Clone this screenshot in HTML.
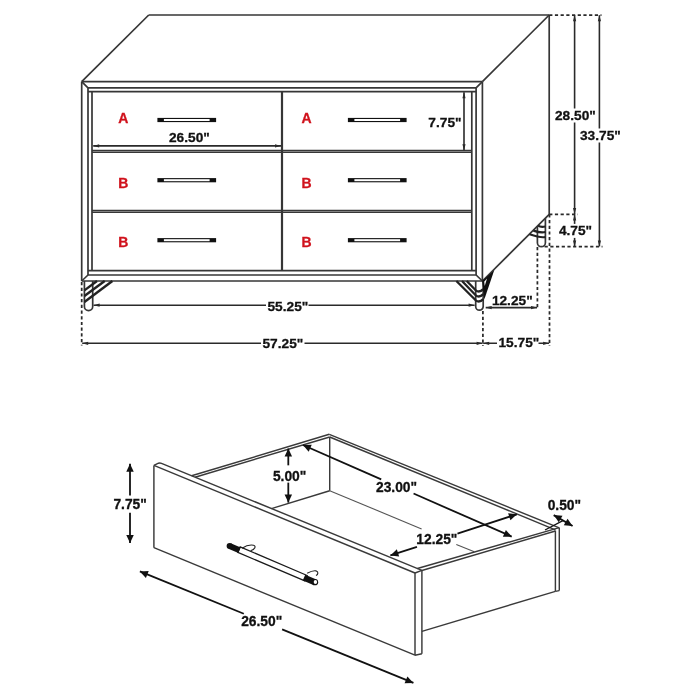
<!DOCTYPE html>
<html><head><meta charset="utf-8"><style>
html,body{margin:0;padding:0;background:#fff;width:700px;height:700px;overflow:hidden}
svg{display:block;will-change:transform}
text{font-family:"Liberation Sans",sans-serif;font-weight:bold}
</style></head><body>
<svg width="700" height="700" viewBox="0 0 700 700">
<rect width="700" height="700" fill="#fff"/>
<line x1="148.75" y1="15.00" x2="549.20" y2="15.00" stroke="#363636" stroke-width="1.7" stroke-linecap="butt"/>
<line x1="81.70" y1="81.70" x2="148.75" y2="15.00" stroke="#363636" stroke-width="1.7" stroke-linecap="butt"/>
<line x1="482.40" y1="81.70" x2="549.20" y2="15.00" stroke="#363636" stroke-width="1.7" stroke-linecap="butt"/>
<line x1="81.70" y1="81.70" x2="482.40" y2="81.70" stroke="#363636" stroke-width="1.7" stroke-linecap="butt"/>
<line x1="81.70" y1="81.70" x2="81.70" y2="281.00" stroke="#363636" stroke-width="1.7" stroke-linecap="butt"/>
<line x1="482.40" y1="81.70" x2="482.40" y2="281.00" stroke="#363636" stroke-width="1.7" stroke-linecap="butt"/>
<line x1="81.70" y1="281.00" x2="482.40" y2="281.00" stroke="#363636" stroke-width="1.7" stroke-linecap="butt"/>
<line x1="88.00" y1="87.80" x2="476.10" y2="87.80" stroke="#363636" stroke-width="1.7" stroke-linecap="butt"/>
<line x1="88.00" y1="87.80" x2="88.00" y2="275.00" stroke="#363636" stroke-width="1.7" stroke-linecap="butt"/>
<line x1="476.10" y1="87.80" x2="476.10" y2="275.00" stroke="#363636" stroke-width="1.7" stroke-linecap="butt"/>
<line x1="88.00" y1="275.00" x2="476.10" y2="275.00" stroke="#363636" stroke-width="1.7" stroke-linecap="butt"/>
<line x1="81.70" y1="81.70" x2="88.00" y2="87.80" stroke="#363636" stroke-width="1.7" stroke-linecap="butt"/>
<line x1="482.40" y1="81.70" x2="476.10" y2="87.80" stroke="#363636" stroke-width="1.7" stroke-linecap="butt"/>
<line x1="81.70" y1="281.00" x2="88.00" y2="275.00" stroke="#363636" stroke-width="1.7" stroke-linecap="butt"/>
<line x1="482.40" y1="281.00" x2="476.10" y2="275.00" stroke="#363636" stroke-width="1.7" stroke-linecap="butt"/>
<line x1="88.00" y1="91.70" x2="476.10" y2="91.70" stroke="#363636" stroke-width="1.7" stroke-linecap="butt"/>
<line x1="92.00" y1="91.70" x2="92.00" y2="270.70" stroke="#363636" stroke-width="1.7" stroke-linecap="butt"/>
<line x1="471.80" y1="91.70" x2="471.80" y2="270.70" stroke="#363636" stroke-width="1.7" stroke-linecap="butt"/>
<line x1="88.00" y1="270.70" x2="476.10" y2="270.70" stroke="#363636" stroke-width="1.7" stroke-linecap="butt"/>
<line x1="282.00" y1="91.70" x2="282.00" y2="270.70" stroke="#363636" stroke-width="2.2" stroke-linecap="butt"/>
<line x1="92.00" y1="150.40" x2="471.80" y2="150.40" stroke="#363636" stroke-width="1.5" stroke-linecap="butt"/>
<line x1="92.00" y1="152.20" x2="471.80" y2="152.20" stroke="#363636" stroke-width="1.5" stroke-linecap="butt"/>
<line x1="92.00" y1="210.40" x2="471.80" y2="210.40" stroke="#363636" stroke-width="1.5" stroke-linecap="butt"/>
<line x1="92.00" y1="212.20" x2="471.80" y2="212.20" stroke="#363636" stroke-width="1.5" stroke-linecap="butt"/>
<line x1="549.20" y1="15.00" x2="549.20" y2="214.40" stroke="#363636" stroke-width="1.7" stroke-linecap="butt"/>
<line x1="482.40" y1="281.00" x2="549.20" y2="214.40" stroke="#363636" stroke-width="1.7" stroke-linecap="butt"/>
<rect x="157.40" y="117.90" width="58.70" height="4.20" fill="#111"/>
<rect x="163.90" y="119.00" width="45.70" height="2.00" fill="#fff"/>
<rect x="157.40" y="178.10" width="58.70" height="4.20" fill="#111"/>
<rect x="163.90" y="179.20" width="45.70" height="2.00" fill="#fff"/>
<rect x="157.40" y="238.10" width="58.70" height="4.20" fill="#111"/>
<rect x="163.90" y="239.20" width="45.70" height="2.00" fill="#fff"/>
<rect x="347.90" y="117.90" width="58.70" height="4.20" fill="#111"/>
<rect x="354.40" y="119.00" width="45.70" height="2.00" fill="#fff"/>
<rect x="347.90" y="178.10" width="58.70" height="4.20" fill="#111"/>
<rect x="354.40" y="179.20" width="45.70" height="2.00" fill="#fff"/>
<rect x="347.90" y="238.10" width="58.70" height="4.20" fill="#111"/>
<rect x="354.40" y="239.20" width="45.70" height="2.00" fill="#fff"/>
<text x="123.40" y="122.90" font-size="14" fill="#d0121c" stroke="#d0121c" stroke-width="0.3" text-anchor="middle" letter-spacing="0">A</text>
<text x="123.40" y="188.00" font-size="14" fill="#d0121c" stroke="#d0121c" stroke-width="0.3" text-anchor="middle" letter-spacing="0">B</text>
<text x="123.40" y="246.70" font-size="14" fill="#d0121c" stroke="#d0121c" stroke-width="0.3" text-anchor="middle" letter-spacing="0">B</text>
<text x="306.60" y="122.90" font-size="14" fill="#d0121c" stroke="#d0121c" stroke-width="0.3" text-anchor="middle" letter-spacing="0">A</text>
<text x="306.60" y="188.00" font-size="14" fill="#d0121c" stroke="#d0121c" stroke-width="0.3" text-anchor="middle" letter-spacing="0">B</text>
<text x="306.60" y="246.70" font-size="14" fill="#d0121c" stroke="#d0121c" stroke-width="0.3" text-anchor="middle" letter-spacing="0">B</text>
<path d="M84.4,281 L84.4,306.4 A4.15,4.15 0 0 0 92.7,306.4 L92.7,281" stroke="#363636" stroke-width="1.7" fill="none" stroke-linecap="butt" stroke-linejoin="round"/>
<line x1="84.40" y1="290.40" x2="97.00" y2="281.00" stroke="#222" stroke-width="2.4" stroke-linecap="butt"/>
<line x1="84.40" y1="296.00" x2="104.70" y2="281.00" stroke="#222" stroke-width="2.4" stroke-linecap="butt"/>
<line x1="84.40" y1="302.00" x2="112.40" y2="281.00" stroke="#222" stroke-width="2.4" stroke-linecap="butt"/>
<path d="M475.7,281 L475.7,306.4 A3.75,3.75 0 0 0 483.2,306.4 L483.2,281" stroke="#363636" stroke-width="1.7" fill="none" stroke-linecap="butt" stroke-linejoin="round"/>
<path d="M466.7,281 L475.7,290.3 Q479.4,293.1 483.2,289.1" stroke="#222" stroke-width="2.3" fill="none" stroke-linecap="butt" stroke-linejoin="round"/>
<path d="M462,281 L475.7,295.3 Q479.4,298.1 483.2,294.1" stroke="#222" stroke-width="2.3" fill="none" stroke-linecap="butt" stroke-linejoin="round"/>
<path d="M456.4,281 L475.7,300.3 Q479.4,303.1 483.2,299.1" stroke="#222" stroke-width="2.3" fill="none" stroke-linecap="butt" stroke-linejoin="round"/>
<polygon points="482.10,281.00 494.30,269.90 484.30,299.50" fill="#111" stroke="none" stroke-width="0"/>
<polygon points="484.20,281.80 487.00,278.50 484.70,286.00" fill="#fff" stroke="none" stroke-width="0"/>
<path d="M537.4,226.2 L537.4,242.7 A4,4 0 0 0 545.4,242.7 L545.4,218.2" stroke="#363636" stroke-width="1.7" fill="none" stroke-linecap="butt" stroke-linejoin="round"/>
<path d="M538,225.7 Q541,227.7 545.4,226.5" stroke="#222" stroke-width="2.2" fill="none" stroke-linecap="butt" stroke-linejoin="round"/>
<path d="M533.4,230.6 Q541,233.2 545.4,232" stroke="#222" stroke-width="2.2" fill="none" stroke-linecap="butt" stroke-linejoin="round"/>
<path d="M529.6,234.3 Q541,238.2 545.4,237" stroke="#222" stroke-width="2.2" fill="none" stroke-linecap="butt" stroke-linejoin="round"/>
<line x1="549.20" y1="15.00" x2="601.50" y2="15.00" stroke="#2a2a2a" stroke-width="1.75" stroke-linecap="butt" stroke-dasharray="3.2 2.5"/>
<line x1="549.20" y1="214.30" x2="578.00" y2="214.30" stroke="#2a2a2a" stroke-width="1.75" stroke-linecap="butt" stroke-dasharray="3.2 2.5"/>
<line x1="544.60" y1="246.60" x2="602.50" y2="246.60" stroke="#2a2a2a" stroke-width="1.75" stroke-linecap="butt" stroke-dasharray="3.2 2.5"/>
<line x1="549.50" y1="214.30" x2="549.50" y2="346.00" stroke="#2a2a2a" stroke-width="1.75" stroke-linecap="butt" stroke-dasharray="3.2 2.5"/>
<line x1="537.40" y1="247.00" x2="537.40" y2="308.00" stroke="#2a2a2a" stroke-width="1.75" stroke-linecap="butt" stroke-dasharray="3.2 2.5"/>
<line x1="81.70" y1="282.00" x2="81.70" y2="345.50" stroke="#2a2a2a" stroke-width="1.75" stroke-linecap="butt" stroke-dasharray="3.2 2.5"/>
<line x1="482.90" y1="311.00" x2="482.90" y2="346.00" stroke="#2a2a2a" stroke-width="1.75" stroke-linecap="butt" stroke-dasharray="3.2 2.5"/>
<line x1="93.20" y1="145.90" x2="281.00" y2="145.90" stroke="#2a2a2a" stroke-width="1.6" stroke-linecap="butt"/>
<polygon points="93.20,145.90 99.20,144.30 99.20,147.50" fill="#2a2a2a" stroke="none" stroke-width="0"/>
<polygon points="281.00,145.90 275.00,147.50 275.00,144.30" fill="#2a2a2a" stroke="none" stroke-width="0"/>
<text x="169.00" y="141.70" font-size="13.7" fill="#111" stroke="#111" stroke-width="0.3" text-anchor="start" letter-spacing="0">26.50&quot;</text>
<line x1="464.00" y1="92.20" x2="464.00" y2="150.20" stroke="#2a2a2a" stroke-width="1.6" stroke-linecap="butt"/>
<polygon points="464.00,92.20 465.60,98.20 462.40,98.20" fill="#2a2a2a" stroke="none" stroke-width="0"/>
<polygon points="464.00,150.20 462.40,144.20 465.60,144.20" fill="#2a2a2a" stroke="none" stroke-width="0"/>
<text x="461.50" y="126.50" font-size="13.7" fill="#111" stroke="#111" stroke-width="0.3" text-anchor="end" letter-spacing="0">7.75&quot;</text>
<line x1="574.60" y1="15.20" x2="574.60" y2="214.10" stroke="#2a2a2a" stroke-width="1.6" stroke-linecap="butt"/>
<polygon points="574.60,15.20 576.20,21.20 573.00,21.20" fill="#2a2a2a" stroke="none" stroke-width="0"/>
<polygon points="574.60,214.10 573.00,208.10 576.20,208.10" fill="#2a2a2a" stroke="none" stroke-width="0"/>
<line x1="599.40" y1="15.20" x2="599.40" y2="246.40" stroke="#2a2a2a" stroke-width="1.6" stroke-linecap="butt"/>
<polygon points="599.40,15.20 601.00,21.20 597.80,21.20" fill="#2a2a2a" stroke="none" stroke-width="0"/>
<polygon points="599.40,246.40 597.80,240.40 601.00,240.40" fill="#2a2a2a" stroke="none" stroke-width="0"/>
<line x1="574.60" y1="214.50" x2="574.60" y2="246.40" stroke="#2a2a2a" stroke-width="1.6" stroke-linecap="butt"/>
<polygon points="574.60,214.50 576.20,220.50 573.00,220.50" fill="#2a2a2a" stroke="none" stroke-width="0"/>
<polygon points="574.60,246.40 573.00,240.40 576.20,240.40" fill="#2a2a2a" stroke="none" stroke-width="0"/>
<rect x="553.50" y="108.50" width="42.50" height="14.00" fill="#fff"/>
<text x="555.00" y="119.50" font-size="13.7" fill="#111" stroke="#111" stroke-width="0.3" text-anchor="start" letter-spacing="0">28.50&quot;</text>
<rect x="578.50" y="128.50" width="43.50" height="14.00" fill="#fff"/>
<text x="580.00" y="139.50" font-size="13.7" fill="#111" stroke="#111" stroke-width="0.3" text-anchor="start" letter-spacing="0">33.75&quot;</text>
<rect x="557.40" y="223.90" width="36.50" height="14.00" fill="#fff"/>
<text x="558.90" y="234.90" font-size="13.7" fill="#111" stroke="#111" stroke-width="0.3" text-anchor="start" letter-spacing="0">4.75&quot;</text>
<line x1="93.60" y1="305.20" x2="474.60" y2="305.20" stroke="#2a2a2a" stroke-width="1.6" stroke-linecap="butt"/>
<polygon points="93.60,305.20 99.60,303.60 99.60,306.80" fill="#2a2a2a" stroke="none" stroke-width="0"/>
<polygon points="474.60,305.20 468.60,306.80 468.60,303.60" fill="#2a2a2a" stroke="none" stroke-width="0"/>
<rect x="266.00" y="299.80" width="42.50" height="14.00" fill="#fff"/>
<text x="267.50" y="310.80" font-size="13.7" fill="#111" stroke="#111" stroke-width="0.3" text-anchor="start" letter-spacing="0">55.25&quot;</text>
<line x1="82.20" y1="343.30" x2="482.60" y2="343.30" stroke="#2a2a2a" stroke-width="1.6" stroke-linecap="butt"/>
<polygon points="82.20,343.30 88.20,341.70 88.20,344.90" fill="#2a2a2a" stroke="none" stroke-width="0"/>
<polygon points="482.60,343.30 476.60,344.90 476.60,341.70" fill="#2a2a2a" stroke="none" stroke-width="0"/>
<rect x="261.00" y="336.50" width="43.50" height="14.00" fill="#fff"/>
<text x="262.50" y="347.50" font-size="13.7" fill="#111" stroke="#111" stroke-width="0.3" text-anchor="start" letter-spacing="0">57.25&quot;</text>
<line x1="485.70" y1="307.60" x2="537.00" y2="307.60" stroke="#2a2a2a" stroke-width="1.6" stroke-linecap="butt"/>
<polygon points="485.70,307.60 491.70,306.00 491.70,309.20" fill="#2a2a2a" stroke="none" stroke-width="0"/>
<polygon points="537.00,307.60 531.00,309.20 531.00,306.00" fill="#2a2a2a" stroke="none" stroke-width="0"/>
<text x="491.90" y="305.00" font-size="13.7" fill="#111" stroke="#111" stroke-width="0.3" text-anchor="start" letter-spacing="0">12.25&quot;</text>
<line x1="483.20" y1="343.30" x2="549.10" y2="343.30" stroke="#2a2a2a" stroke-width="1.6" stroke-linecap="butt"/>
<polygon points="483.20,343.30 489.20,341.70 489.20,344.90" fill="#2a2a2a" stroke="none" stroke-width="0"/>
<polygon points="549.10,343.30 543.10,344.90 543.10,341.70" fill="#2a2a2a" stroke="none" stroke-width="0"/>
<rect x="497.00" y="336.10" width="41.50" height="14.00" fill="#fff"/>
<text x="498.50" y="347.10" font-size="13.7" fill="#111" stroke="#111" stroke-width="0.3" text-anchor="start" letter-spacing="0">15.75&quot;</text>
<line x1="153.90" y1="465.40" x2="153.90" y2="547.70" stroke="#3a3a3a" stroke-width="1.45" stroke-linecap="butt"/>
<line x1="153.90" y1="465.40" x2="415.00" y2="573.00" stroke="#3a3a3a" stroke-width="1.45" stroke-linecap="butt"/>
<line x1="153.90" y1="547.70" x2="415.00" y2="655.20" stroke="#3a3a3a" stroke-width="1.45" stroke-linecap="butt"/>
<line x1="415.00" y1="573.00" x2="415.00" y2="655.20" stroke="#3a3a3a" stroke-width="1.45" stroke-linecap="butt"/>
<path d="M153.9,465.4 L158.5,463.2 Q160,462.7 161.5,463.3 L421.9,570.4" stroke="#3a3a3a" stroke-width="1.45" fill="none" stroke-linecap="butt" stroke-linejoin="round"/>
<line x1="415.00" y1="573.00" x2="421.90" y2="570.40" stroke="#3a3a3a" stroke-width="1.45" stroke-linecap="butt"/>
<line x1="421.90" y1="570.40" x2="421.90" y2="653.70" stroke="#3a3a3a" stroke-width="1.45" stroke-linecap="butt"/>
<line x1="415.00" y1="655.20" x2="421.90" y2="653.70" stroke="#3a3a3a" stroke-width="1.45" stroke-linecap="butt"/>
<line x1="191.60" y1="475.80" x2="329.30" y2="434.30" stroke="#3a3a3a" stroke-width="1.45" stroke-linecap="butt"/>
<line x1="195.00" y1="477.20" x2="329.70" y2="437.00" stroke="#3a3a3a" stroke-width="1.45" stroke-linecap="butt"/>
<line x1="329.30" y1="434.30" x2="559.30" y2="527.90" stroke="#3a3a3a" stroke-width="1.45" stroke-linecap="butt"/>
<line x1="329.70" y1="437.00" x2="555.40" y2="529.80" stroke="#3a3a3a" stroke-width="1.45" stroke-linecap="butt"/>
<line x1="329.70" y1="437.00" x2="329.70" y2="490.70" stroke="#3a3a3a" stroke-width="1.45" stroke-linecap="butt"/>
<line x1="329.70" y1="490.70" x2="271.40" y2="508.60" stroke="#3a3a3a" stroke-width="1.45" stroke-linecap="butt"/>
<line x1="329.70" y1="490.70" x2="421.60" y2="528.90" stroke="#555" stroke-width="1.1" stroke-linecap="butt"/>
<line x1="456.30" y1="544.60" x2="474.30" y2="551.80" stroke="#555" stroke-width="1.1" stroke-linecap="butt"/>
<line x1="417.40" y1="568.50" x2="559.30" y2="527.60" stroke="#3a3a3a" stroke-width="1.45" stroke-linecap="butt"/>
<line x1="421.90" y1="570.50" x2="555.40" y2="531.00" stroke="#3a3a3a" stroke-width="1.45" stroke-linecap="butt"/>
<line x1="555.40" y1="530.60" x2="555.40" y2="591.40" stroke="#3a3a3a" stroke-width="1.45" stroke-linecap="butt"/>
<line x1="559.30" y1="527.90" x2="559.30" y2="590.60" stroke="#3a3a3a" stroke-width="1.45" stroke-linecap="butt"/>
<line x1="555.40" y1="591.40" x2="559.30" y2="590.60" stroke="#3a3a3a" stroke-width="1.45" stroke-linecap="butt"/>
<line x1="421.90" y1="631.40" x2="555.40" y2="591.40" stroke="#3a3a3a" stroke-width="1.45" stroke-linecap="butt"/>
<polygon points="237.84,552.31 304.84,580.91 307.16,575.49 240.16,546.89" fill="#fff" stroke="#1a1a1a" stroke-width="1.25"/>
<polygon points="228.43,548.76 238.33,552.96 240.67,547.44 230.77,543.24" fill="#111" stroke="none" stroke-width="0"/>
<polygon points="302.78,580.45 313.98,585.25 316.42,579.55 305.22,574.75" fill="#111" stroke="none" stroke-width="0"/>
<circle cx="229.6" cy="546.0" r="3.0" fill="#111"/>
<circle cx="315.0" cy="582.2" r="3.15" fill="#111"/>
<ellipse cx="315.4" cy="582.0" rx="1.7" ry="1.9" fill="#fff"/>
<path d="M242,548.3 C246,545.6 250.5,544.6 253.5,545.2 C256.3,546.0 255.3,549.2 250.6,550.8" stroke="#222" stroke-width="1.1" fill="none" stroke-linecap="butt" stroke-linejoin="round"/>
<path d="M307.2,573.2 C310.5,571.4 314,570.3 316.2,570.9 C318.7,571.7 318.2,574.4 316.0,575.6" stroke="#222" stroke-width="1.1" fill="none" stroke-linecap="butt" stroke-linejoin="round"/>
<line x1="130.00" y1="463.70" x2="130.00" y2="495.38" stroke="#111" stroke-width="1.8" stroke-linecap="butt"/>
<line x1="130.00" y1="512.80" x2="130.00" y2="542.90" stroke="#111" stroke-width="1.8" stroke-linecap="butt"/>
<polygon points="130.00,463.70 133.75,471.70 126.25,471.70" fill="#111" stroke="none" stroke-width="0"/>
<polygon points="130.00,542.90 126.25,534.90 133.75,534.90" fill="#111" stroke="none" stroke-width="0"/>
<text x="113.40" y="508.90" font-size="13.8" fill="#111" stroke="#111" stroke-width="0.3" text-anchor="start" letter-spacing="0">7.75&quot;</text>
<line x1="288.30" y1="448.60" x2="288.30" y2="465.34" stroke="#111" stroke-width="1.8" stroke-linecap="butt"/>
<line x1="288.30" y1="482.62" x2="288.30" y2="502.60" stroke="#111" stroke-width="1.8" stroke-linecap="butt"/>
<polygon points="288.30,448.60 292.05,456.60 284.55,456.60" fill="#111" stroke="none" stroke-width="0"/>
<polygon points="288.30,502.60 284.55,494.60 292.05,494.60" fill="#111" stroke="none" stroke-width="0"/>
<text x="272.90" y="481.10" font-size="13.8" fill="#111" stroke="#111" stroke-width="0.3" text-anchor="start" letter-spacing="0">5.00&quot;</text>
<line x1="302.90" y1="445.00" x2="381.20" y2="479.35" stroke="#111" stroke-width="1.8" stroke-linecap="butt"/>
<line x1="413.56" y1="493.55" x2="511.70" y2="536.60" stroke="#111" stroke-width="1.8" stroke-linecap="butt"/>
<polygon points="302.90,445.00 311.73,444.78 308.72,451.65" fill="#111" stroke="none" stroke-width="0"/>
<polygon points="511.70,536.60 502.87,536.82 505.88,529.95" fill="#111" stroke="none" stroke-width="0"/>
<text x="376.00" y="491.70" font-size="13.8" fill="#111" stroke="#111" stroke-width="0.3" text-anchor="start" letter-spacing="0">23.00&quot;</text>
<line x1="390.40" y1="555.40" x2="416.96" y2="546.77" stroke="#111" stroke-width="1.8" stroke-linecap="butt"/>
<line x1="457.44" y1="533.62" x2="516.90" y2="514.30" stroke="#111" stroke-width="1.8" stroke-linecap="butt"/>
<polygon points="390.40,555.40 396.85,549.36 399.17,556.49" fill="#111" stroke="none" stroke-width="0"/>
<polygon points="516.90,514.30 510.45,520.34 508.13,513.21" fill="#111" stroke="none" stroke-width="0"/>
<text x="416.30" y="544.40" font-size="13.8" fill="#111" stroke="#111" stroke-width="0.3" text-anchor="start" letter-spacing="0">12.25&quot;</text>
<line x1="553.70" y1="515.10" x2="572.60" y2="526.00" stroke="#111" stroke-width="1.8" stroke-linecap="butt"/>
<polygon points="553.70,515.10 562.50,515.85 558.76,522.35" fill="#111" stroke="none" stroke-width="0"/>
<polygon points="572.60,526.00 563.80,525.25 567.54,518.75" fill="#111" stroke="none" stroke-width="0"/>
<text x="547.70" y="510.00" font-size="13.8" fill="#111" stroke="#111" stroke-width="0.3" text-anchor="start" letter-spacing="0">0.50&quot;</text>
<line x1="545.00" y1="530.00" x2="562.90" y2="520.70" stroke="#111" stroke-width="1.3" stroke-linecap="butt"/>
<line x1="139.90" y1="571.40" x2="243.83" y2="613.77" stroke="#111" stroke-width="1.8" stroke-linecap="butt"/>
<line x1="282.12" y1="629.38" x2="413.40" y2="682.90" stroke="#111" stroke-width="1.8" stroke-linecap="butt"/>
<polygon points="139.90,571.40 148.72,570.95 145.89,577.89" fill="#111" stroke="none" stroke-width="0"/>
<polygon points="413.40,682.90 404.58,683.35 407.41,676.41" fill="#111" stroke="none" stroke-width="0"/>
<text x="241.20" y="626.20" font-size="13.8" fill="#111" stroke="#111" stroke-width="0.3" text-anchor="start" letter-spacing="0">26.50&quot;</text>
</svg></body></html>
